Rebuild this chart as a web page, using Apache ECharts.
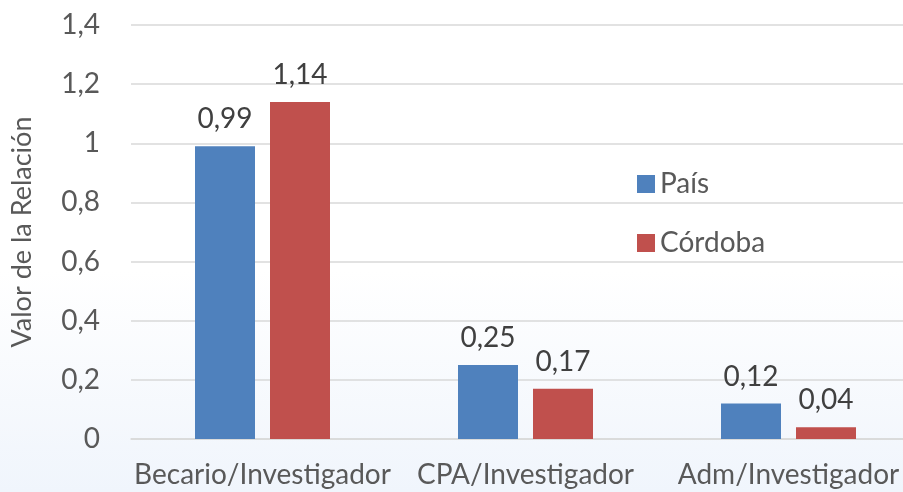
<!DOCTYPE html>
<html>
<head>
<meta charset="utf-8">
<script src="https://cdn.jsdelivr.net/npm/echarts@6/dist/echarts.min.js"></script>
<style>
  html, body { margin: 0; padding: 0; }
  #chart { width: 903px; height: 492px; }
</style>
</head>
<body>
<div id="chart"></div>
<script>
// datos
const categorias = ['Becario/Investigador', 'CPA/Investigador', 'Adm/Investigador'];
const pais = [0.99, 0.25, 0.12];
const cordoba = [1.14, 0.17, 0.04];

const fuente = 'Lato';
const tam = 28;
const coma = v => String(v).replace('.', ',');

let chart = echarts.init(document.getElementById('chart'));
let option = {
	backgroundColor: {
		type: 'linear', x: 0, y: 0, x2: 0, y2: 1,
		colorStops: [
			{ offset: 0, color: '#ffffff' },
			{ offset: 0.55, color: '#ffffff' },
			{ offset: 1, color: '#f0f5fc' }
		]
	},
	textStyle: { fontFamily: fuente },
	// la rejilla sigue un poco más allá del borde derecho
	grid: { left: 131, right: -17, top: 25, bottom: 53, outerBoundsMode: 'none', containLabel: false },
	legend: {
		orient: 'vertical',
		left: 632,
		top: 165,
		itemWidth: 18,
		itemHeight: 18,
		itemGap: 31,
		icon: 'rect',
		textStyle: { fontSize: tam, color: '#595959', fontFamily: fuente }
	},
	xAxis: {
		type: 'category',
		data: categorias,
		axisTick: { show: false },
		axisLine: { lineStyle: { color: '#d9d9d9', width: 1.5 } },
		axisLabel: { fontSize: tam, color: '#595959', margin: 22, interval: 0 }
	},
	yAxis: {
		type: 'value',
		min: 0,
		max: 1.4,
		interval: 0.2,
		name: 'Valor de la Relación',
		nameLocation: 'middle',
		nameGap: 95,
		nameTextStyle: { fontSize: tam - 1, color: '#595959' },
		axisLine: { show: false },
		axisTick: { show: false },
		splitLine: { lineStyle: { color: '#d9d9d9', width: 1.5 } },
		axisLabel: {
			fontSize: tam, color: '#595959', margin: 31,
			formatter: v => coma(Math.round(v * 10) / 10)
		}
	},
	series: [
		{
			name: 'País',
			type: 'bar',
			data: pais,
			barWidth: 60,
			barGap: '25%',
			itemStyle: { color: '#4f81bd' },
			label: { show: true, position: 'top', distance: 13, fontSize: tam, color: '#404040', formatter: p => coma(p.value) }
		},
		{
			name: 'Córdoba',
			type: 'bar',
			data: cordoba,
			barWidth: 60,
			barGap: '25%',
			itemStyle: { color: '#c0504d' },
			label: { show: true, position: 'top', distance: 13, fontSize: tam, color: '#404040', formatter: p => coma(p.value) }
		}
	]
};
chart.setOption(option);
</script>
</body>
</html>
